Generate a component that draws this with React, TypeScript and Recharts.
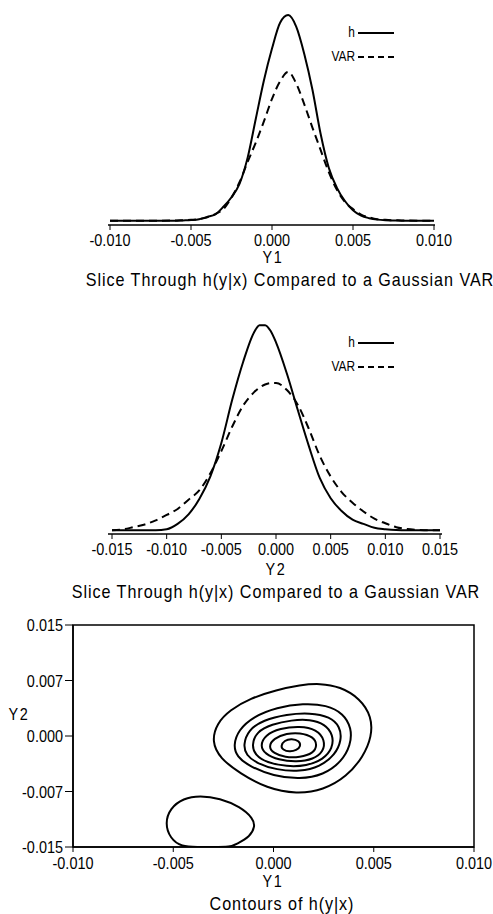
import { LineChart, Line, XAxis, YAxis, ScatterChart, Scatter, ReferenceArea } from 'recharts'

// ── Slice through Y1 (x in units of 0.001) ───────────────────────────────────
const y1Grid = [-10, -9, -8, -7, -6, -5.5, -5, -4.5, -4, -3.5, -3, -2.5, -2, -1.5, -1, -0.5, 0, 0.5, 1, 1.5, 2, 2.5, 3, 3.5, 4, 4.5, 5, 5.5, 6, 6.5, 7, 8, 9, 10]
const h1 = [0.5, 0.5, 0.5, 0.5, 0.5, 0.7, 0.9, 1.3, 2.4, 3.6, 7.3, 11.9, 18.5, 31.2, 49.9, 68.4, 83.8, 96.3, 100, 94.3, 81.0, 63.8, 42.6, 26.3, 16.6, 10.1, 5.6, 3.0, 1.8, 1.1, 0.8, 0.6, 0.5, 0.5]
const var1 = [0.6, 0.6, 0.6, 0.6, 0.7, 0.8, 1.0, 1.4, 2.2, 3.8, 6.2, 11.8, 19.3, 29.1, 38.4, 48.6, 59.5, 68.0, 72.5, 66.8, 56.7, 45.5, 34.8, 24.2, 15.6, 9.7, 6.2, 3.5, 2.2, 1.3, 1.0, 0.7, 0.6, 0.6]

// ── Slice through Y2 ─────────────────────────────────────────────────────────
const y2Grid = [-15, -14, -13, -12, -11, -10, -9, -8, -7, -6, -5, -4, -3, -2, -1.5, -1, -0.5, 0, 1, 2, 3, 4, 5, 6, 7, 8, 9, 10, 11, 12, 13, 14, 15]
const h2 = [0.3, 0.3, 0.3, 0.3, 0.3, 0.8, 3.4, 8.0, 15.6, 26.4, 42.5, 63.5, 81.8, 96.1, 99.4, 99.5, 96.8, 91.2, 76.0, 58.3, 41.1, 25.6, 15.8, 9.6, 5.4, 3.4, 1.5, 0.8, 0.4, 0.3, 0.3, 0.3, 0.3]
const var2 = [0.3, 0.7, 1.9, 3.1, 5.1, 7.7, 10.6, 15.1, 19.7, 27.9, 38.6, 50.5, 60.6, 67.1, 69.3, 70.8, 71.5, 71.5, 68.1, 60.9, 49.4, 36.3, 26.3, 18.8, 13.6, 9.4, 5.9, 3.7, 1.8, 0.9, 0.5, 0.3, 0.3]

// ── Contours of h(y|x): [Y1, Y2] pairs, units of 0.001 ───────────────────────
const contour1 = [[-3.08, -0.77], [-2.83, 1.71], [-2.17, 3.51], [-1.17, 5.09], [0.16, 6.22], [1.32, 6.89], [2.32, 7.12], [3.32, 6.67], [4.31, 5.09], [4.9, 2.61], [4.9, -0.09], [4.48, -2.79], [3.65, -5.5], [2.49, -7.3], [1.16, -7.84], [-0.34, -7.07], [-1.67, -5.04], [-2.67, -3.02]]
const contour2 = [[-2.0, -1.22], [-1.75, 0.81], [-1.01, 2.61], [0.16, 3.87], [1.49, 4.41], [2.65, 4.19], [3.48, 3.06], [3.9, 1.04], [3.85, -1.22], [3.4, -3.47], [2.49, -5.27], [1.32, -5.86], [-0.01, -5.41], [-1.17, -4.14], [-1.84, -2.79]]
const contour3 = [[-1.51, -1.22], [-1.26, 0.81], [-0.51, 2.16], [0.66, 2.93], [1.82, 3.15], [2.82, 2.61], [3.32, 1.26], [3.4, -0.54], [3.07, -2.57], [2.32, -4.14], [1.32, -4.82], [0.16, -4.59], [-0.84, -3.69], [-1.37, -2.57]]
const contour4 = [[-1.09, -1.22], [-0.84, 0.59], [-0.09, 1.58], [0.91, 2.16], [1.82, 2.25], [2.57, 1.62], [2.98, 0.14], [2.95, -1.67], [2.49, -3.15], [1.65, -4.05], [0.66, -4.14], [-0.34, -3.6], [-0.92, -2.57]]
const contour5 = [[-0.67, -1.35], [-0.42, 0.14], [0.32, 1.04], [1.32, 1.35], [2.15, 0.9], [2.57, -0.54], [2.49, -2.12], [1.99, -3.15], [1.16, -3.51], [0.24, -3.24], [-0.42, -2.43]]
const contour6 = [[-0.26, -1.44], [0.01, -0.32], [0.66, 0.36], [1.32, 0.45], [1.99, -0.09], [2.19, -1.22], [1.99, -2.34], [1.32, -2.88], [0.57, -2.88], [0.01, -2.34]]
const contour7 = [[0.36, -1.36], [0.54, -0.59], [0.91, -0.36], [1.28, -0.65], [1.37, -1.36], [1.15, -1.95], [0.79, -2.15], [0.46, -1.86]]
const contourLow = [[-4.58, -15], [-5.16, -13.83], [-5.41, -11.8], [-5.16, -9.77], [-4.5, -8.42], [-3.67, -8.06], [-2.67, -8.42], [-1.67, -9.55], [-1.01, -11.13], [-0.92, -12.25], [-1.17, -13.6], [-1.84, -14.6], [-2.17, -15], [-3.0, -15], [-3.8, -15]]

const CONTOURS = [contour1, contour2, contour3, contour4, contour5, contour6, contour7, contourLow]

const slice1 = y1Grid.map((y, i) => ({ y, h: h1[i], v: var1[i] }))
const slice2 = y2Grid.map((y, i) => ({ y, h: h2[i], v: var2[i] }))

// ── Shared styles ────────────────────────────────────────────────────────────
// the scanned lettering is tall and narrow, so text is squeezed horizontally
const FONT = '"Liberation Sans", Arial, sans-serif'
const SQUEEZE = 0.85
const AXIS_LINE = { stroke: '#000', strokeWidth: 1.5 }
const fmt = (v: number) => (v / 1000).toFixed(3)
const fmtTrunc = (v: number) => (Math.trunc(v) / 1000).toFixed(3)
const noDot = () => <g />

// narrow tick label
function makeTick(format: (v: number) => string, dy: string) {
  return (props: any) => {
    const { x, y, payload, textAnchor } = props
    return (
      <text transform={`translate(${x},${y}) scale(${SQUEEZE},1)`} textAnchor={textAnchor} dy={dy}
        fontSize={17} fill="#000" fontFamily={FONT}>
        {format(payload.value)}
      </text>
    )
  }
}
const xTick = makeTick(fmt, '0.71em')
const yTick = makeTick(fmtTrunc, '0.355em')

function Txt({ x, y, size = 19, spacing = 1.1, children }: { x: number; y: number; size?: number; spacing?: number; children: React.ReactNode }) {
  return (
    <div style={{ position: 'absolute', left: x, top: y, transform: `translate(-50%,-50%) scaleX(${SQUEEZE})`, whiteSpace: 'nowrap', fontSize: size, letterSpacing: spacing, color: '#000', lineHeight: 1 }}>
      {children}
    </div>
  )
}

function Key({ x, y }: { x: number; y: number }) {
  // legend: line starts at x, rows at y and y + 25
  const label = { position: 'absolute' as const, left: x - 60, width: 57, textAlign: 'right' as const, fontSize: 14, lineHeight: 1, transformOrigin: 'right center', transform: `scaleX(${SQUEEZE})` }
  return (
    <>
      <div style={{ ...label, top: y - 8 }}>h</div>
      <div style={{ ...label, top: y + 16 }}>VAR</div>
      <svg style={{ position: 'absolute', left: x, top: y - 5 }} width={40} height={40}>
        <line x1={0} y1={5} x2={36} y2={5} stroke="#000" strokeWidth={2} />
        <line x1={0} y1={29} x2={36} y2={29} stroke="#000" strokeWidth={2} strokeDasharray="6 4" />
      </svg>
    </>
  )
}

function SliceChart({ data, domainX, ticks, margin, pad, tickMargin }: {
  data: { y: number; h: number; v: number }[]
  domainX: [number, number]
  ticks: number[]
  margin: { top: number; right: number; bottom: number; left: number }
  pad: { left: number; right: number }
  tickMargin: number
}) {
  return (
    <LineChart width={493} height={margin.top + 219 + 30 + margin.bottom} data={data} margin={margin}>
      <XAxis dataKey="y" type="number" domain={domainX} ticks={ticks} padding={pad}
        height={30} allowDataOverflow axisLine={AXIS_LINE} tickLine={{ stroke: '#000' }} tickSize={5}
        tickMargin={tickMargin} tick={xTick} />
      <YAxis type="number" domain={[-1.5, 104.4]} allowDataOverflow width={0} tick={false} tickLine={false} axisLine={AXIS_LINE} />
      <Line type="monotone" dataKey="h" stroke="#000" strokeWidth={2} dot={false} isAnimationActive={false} />
      <Line type="monotone" dataKey="v" stroke="#000" strokeWidth={2} strokeDasharray="8 5" dot={false} isAnimationActive={false} />
    </LineChart>
  )
}

export default function App() {
  return (
    <div style={{ position: 'absolute', left: 0, top: 0, width: 493, height: 914, background: '#fff', fontFamily: FONT, color: '#000', overflow: 'hidden' }}>
      {/* Panel 1: slice through Y1 */}
      <div style={{ position: 'absolute', left: 0, top: 0 }}>
        <SliceChart data={slice1} domainX={[-10, 10]} ticks={[-10, -5, 0, 5, 10]}
          margin={{ top: 6, right: 58, bottom: 45, left: 108 }} pad={{ left: 2, right: 1 }} tickMargin={4} />
      </div>
      <Key x={358} y={33} />
      <Txt x={273} y={257} size={17} spacing={2}>Y1</Txt>
      <Txt x={290} y={279}>Slice Through h(y|x) Compared to a Gaussian VAR</Txt>

      {/* Panel 2: slice through Y2 */}
      <div style={{ position: 'absolute', left: 0, top: 300 }}>
        <SliceChart data={slice2} domainX={[-15, 15]} ticks={[-15, -10, -5, 0, 5, 10, 15]}
          margin={{ top: 15, right: 51, bottom: 46, left: 108 }} pad={{ left: 4, right: 2 }} tickMargin={4} />
      </div>
      <Key x={358} y={343} />
      <Txt x={276} y={569} size={17} spacing={2}>Y2</Txt>
      <Txt x={276} y={591}>Slice Through h(y|x) Compared to a Gaussian VAR</Txt>

      {/* Panel 3: contours */}
      <div style={{ position: 'absolute', left: 0, top: 600 }}>
        <ScatterChart width={493} height={314} margin={{ top: 25, right: 19, bottom: 37, left: 13 }}>
          <XAxis dataKey="x" type="number" domain={[-10, 10]} ticks={[-10, -5, 0, 5, 10]}
            height={30} allowDataOverflow axisLine={AXIS_LINE} tickLine={{ stroke: '#000' }} tickSize={5}
            tickMargin={5} tick={xTick} />
          <YAxis dataKey="y" type="number" domain={[-15, 15]} ticks={[-15, -7.5, 0, 7.5, 15]}
            width={60} allowDataOverflow axisLine={AXIS_LINE} tickLine={{ stroke: '#000' }} tickSize={8}
            tickMargin={2} tick={yTick} />
          <ReferenceArea x1={-10} x2={10} y1={-15} y2={15} fill="none" stroke="#000" strokeWidth={1.5} />
          {CONTOURS.map((c, i) => (
            <Scatter key={i} data={c.map(([x, y]) => ({ x, y }))} fill="#000"
              line={{ stroke: '#000', strokeWidth: 2 }} lineJointType="basisClosed"
              shape={noDot} isAnimationActive={false} />
          ))}
        </ScatterChart>
      </div>
      <Txt x={19} y={714} size={17} spacing={2}>Y2</Txt>
      <Txt x={273} y={881} size={17} spacing={2}>Y1</Txt>
      <Txt x={282} y={903}>Contours of h(y|x)</Txt>
    </div>
  )
}
